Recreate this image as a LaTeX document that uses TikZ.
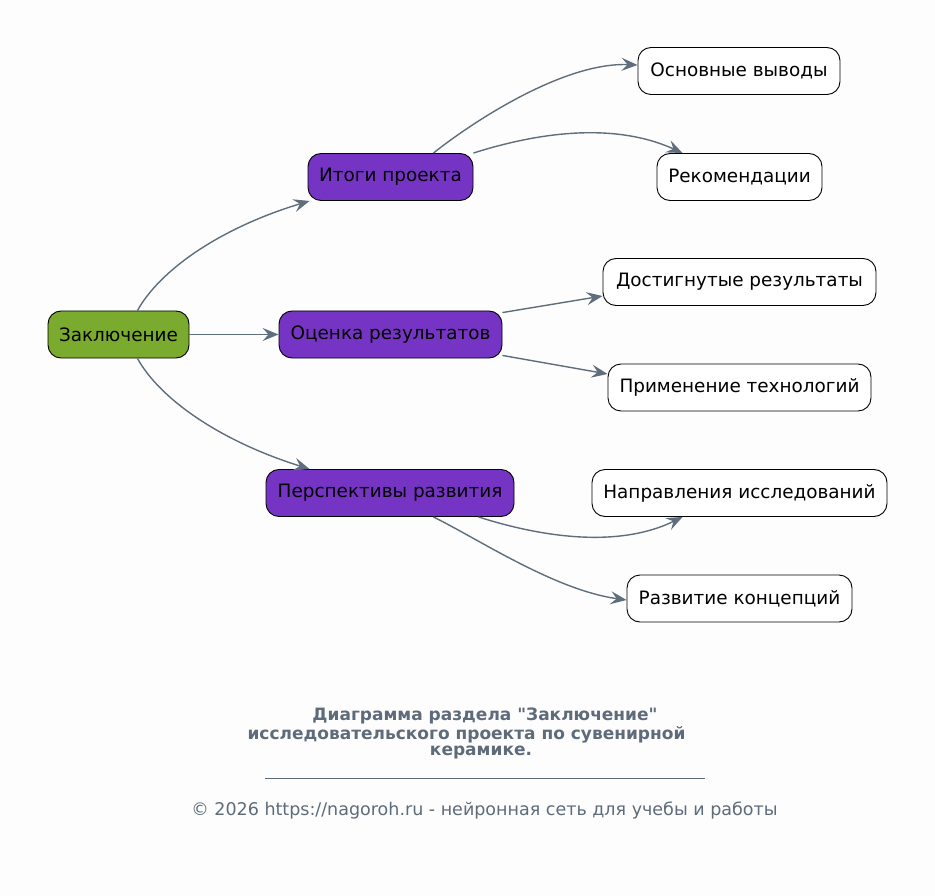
\documentclass[tikz,border=0pt]{standalone}
\usepackage{fontspec}
\setmainfont{DejaVu Sans}[Ligatures=TeXOff]
\usetikzlibrary{arrows.meta}
\definecolor{bg}{HTML}{FDFDFD}
\definecolor{rootc}{HTML}{7AAA2E}
\definecolor{midc}{HTML}{7634C4}
\definecolor{edgec}{HTML}{5F6E7D}
\definecolor{capc}{HTML}{5E6B7A}
\tikzset{
  box/.style={draw=black, line width=0.9pt, rounded corners=13pt, minimum height=47pt, inner xsep=0pt, font=\fontsize{18.4}{21}\selectfont, text=black},
  rootbox/.style={box, fill=rootc},
  midbox/.style={box, fill=midc},
  leafbox/.style={box, fill=white},
  conn/.style={draw=edgec, line width=1.4pt, -{Stealth[length=16pt,width=13pt,inset=6pt]}},
}
\begin{document}
\begin{tikzpicture}[x=1pt,y=-1pt]
\fill[bg] (0,0) rectangle (935,896);
\useasboundingbox (0,0) rectangle (935,896);
\node[rootbox, minimum width=141pt] (root) at (118.5,334.5) {Заключение};
\node[midbox, minimum width=165pt] (m1) at (390.5,177) {Итоги проекта};
\node[midbox, minimum width=223pt] (m2) at (390.5,334.5) {Оценка результатов};
\node[midbox, minimum width=248pt] (m3) at (390,493) {Перспективы развития};
\node[leafbox, minimum width=202pt] (l1) at (739,71) {Основные выводы};
\node[leafbox, minimum width=165pt] (l2) at (739.5,177) {Рекомендации};
\node[leafbox, minimum width=273pt] (l3) at (739.5,282) {Достигнутые результаты};
\node[leafbox, minimum width=263pt] (l4) at (739.5,387.5) {Применение технологий};
\node[leafbox, minimum width=295pt] (l5) at (739.5,493) {Направления исследований};
\node[leafbox, minimum width=225pt] (l6) at (739.5,598.5) {Развитие концепций};

\draw[conn] ([xshift=-52pt]root.north east) .. controls (160,270) and (220,228) .. ([xshift=2pt,yshift=0pt]m1.south west);
\draw[conn] (root.east) -- (m2.west);
\draw[conn] ([xshift=-52pt]root.south east) .. controls (160,399) and (220,441) .. ([xshift=44pt]m3.north west);
\draw[conn] ([xshift=-40pt]m1.north east) .. controls (475,120) and (565,62) .. ([yshift=6pt]l1.west);
\draw[conn] ([yshift=0pt]m1.north east) .. controls (530,135) and (610,120) .. ([xshift=26pt]l2.north west);
\draw[conn] ([yshift=-2pt]m2.north east) -- ([yshift=-14pt]l3.west);
\draw[conn] ([yshift=3pt]m2.south east) -- ([yshift=13.5pt]l4.west);
\draw[conn] ([xshift=-36pt]m3.south east) .. controls (535,535) and (615,550) .. ([xshift=91pt]l5.south west);
\draw[conn] ([xshift=-81pt]m3.south east) .. controls (480,540) and (555,590) .. ([yshift=-1.5pt]l6.west);

\begin{scope}[every node/.style={text=capc, inner sep=0pt, font=\bfseries\fontsize{17}{20}\selectfont}]
\node (c1) at (485,716) {Диаграмма раздела "Заключение"};
\node (c2) at (466.5,734.5) {исследовательского проекта по сувенирной};
\node (c3) at (481,753) {керамике.};
\end{scope}
\coordinate (ha) at (265,778);
\coordinate (hb) at (705,778);
\draw[capc, line width=0.8pt] (ha) -- (hb);
\node[text=capc, font=\fontsize{17.5}{20}\selectfont] (foot) at (484.5,811) {© 2026 https://nagoroh.ru - нейронная сеть для учебы и работы};
\end{tikzpicture}
\end{document}
